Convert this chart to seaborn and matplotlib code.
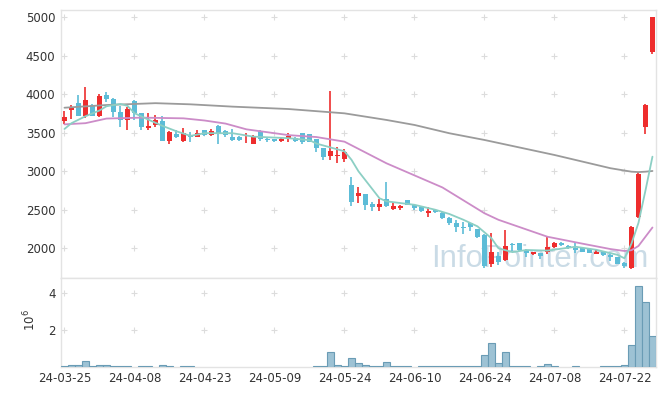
import numpy as np
import pandas as pd
import matplotlib
matplotlib.use('Agg')
import matplotlib.pyplot as plt
import seaborn as sns

# daily candles, 2024-03-25 .. 2024-07-26 (trading days)
opens = [3650, 3790, 3890, 3720, 3860, 3720, 3990, 3945, 3775, 3660,
         3915, 3755, 3560, 3595, 3655, 3400, 3490, 3400, 3470, 3450,
         3535, 3475, 3590, 3520, 3450, 3450, 3388, 3355, 3525, 3420,
         3420, 3390, 3418, 3437, 3495, 3480, 3415, 3300, 3200, 3198,
         3165, 2820, 2685, 2705, 2575, 2542, 2635, 2508, 2520, 2625,
         2560, 2530, 2455, 2497, 2462, 2390, 2325, 2275, 2325, 2245,
         2170, 1795, 1900, 1845, 2055, 2065, 1978, 1925, 1935, 1957,
         2022, 2065, 2030, 2000, 2000, 1988, 1926, 1955, 1912, 1885,
         1815, 1740, 2400, 3580, 4555]
highs = [3780, 3860, 3990, 4100, 3870, 4000, 4030, 3950, 3850, 3840,
         3920, 3760, 3760, 3730, 3715, 3525, 3535, 3560, 3510, 3540,
         3540, 3545, 3595, 3540, 3545, 3460, 3495, 3470, 3530, 3430,
         3425, 3430, 3495, 3445, 3500, 3490, 3420, 3305, 4040, 3320,
         3290, 2930, 2790, 2710, 2605, 2640, 2865, 2600, 2560, 2630,
         2570, 2540, 2530, 2505, 2470, 2400, 2365, 2335, 2330, 2255,
         2190, 2195, 1950, 2240, 2075, 2070, 1985, 1955, 1945, 2155,
         2085, 2080, 2040, 2085, 2005, 1995, 1995, 1960, 1925, 1890,
         1820, 2285, 2990, 3880, 5010]
lows = [3610, 3680, 3715, 3690, 3715, 3710, 3900, 3700, 3570, 3535,
        3660, 3530, 3540, 3580, 3390, 3350, 3430, 3385, 3385, 3440,
        3465, 3465, 3355, 3450, 3400, 3390, 3365, 3350, 3400, 3385,
        3385, 3380, 3385, 3385, 3360, 3380, 3255, 3145, 3145, 3105,
        3125, 2550, 2585, 2500, 2480, 2490, 2540, 2500, 2500, 2560,
        2500, 2470, 2405, 2460, 2385, 2300, 2210, 2185, 2230, 2140,
        1750, 1760, 1785, 1840, 1960, 1960, 1890, 1915, 1860, 1925,
        2010, 2030, 1995, 1935, 1950, 1940, 1920, 1900, 1830, 1795,
        1740, 1735, 2395, 3485, 4530]
closes = [3700, 3835, 3720, 3925, 3720, 3980, 3945, 3765, 3660, 3810,
          3755, 3570, 3590, 3660, 3400, 3505, 3440, 3500, 3450, 3495,
          3475, 3520, 3480, 3475, 3410, 3405, 3398, 3460, 3415, 3410,
          3390, 3420, 3458, 3400, 3385, 3385, 3300, 3185, 3268, 3205,
          3245, 2605, 2722, 2565, 2540, 2575, 2550, 2548, 2548, 2565,
          2520, 2478, 2490, 2465, 2392, 2325, 2270, 2265, 2275, 2150,
          1770, 1950, 1825, 2030, 2045, 1975, 1940, 1948, 1900, 2020,
          2070, 2040, 2000, 1980, 1958, 1945, 1955, 1910, 1892, 1798,
          1770, 2280, 2965, 3865, 5010]
# volume in millions of shares
volumes = [0.04, 0.08, 0.08, 0.30, 0.05, 0.09, 0.09, 0.04, 0.04, 0.04,
           0.00, 0.04, 0.04, 0.00, 0.10, 0.04, 0.00, 0.04, 0.04, 0.00,
           0.00, 0.00, 0.00, 0.00, 0.00, 0.00, 0.00, 0.00, 0.00, 0.00,
           0.00, 0.00, 0.00, 0.00, 0.00, 0.00, 0.04, 0.04, 0.82, 0.09,
           0.04, 0.45, 0.20, 0.09, 0.04, 0.04, 0.24, 0.04, 0.04, 0.04,
           0.00, 0.04, 0.04, 0.04, 0.04, 0.04, 0.04, 0.04, 0.04, 0.04,
           0.64, 1.27, 0.18, 0.78, 0.04, 0.04, 0.04, 0.00, 0.04, 0.14,
           0.04, 0.00, 0.00, 0.04, 0.00, 0.00, 0.00, 0.04, 0.04, 0.04,
           0.09, 1.18, 4.40, 3.51, 1.67]

# moving averages (day index, value)
ma5_days = [0, 1, 3, 5, 6, 8, 9, 10, 12, 14, 16, 18, 20, 24, 27, 32, 35, 36,
            40, 41, 42, 45, 46, 50, 53, 55, 57, 59, 61, 62, 64, 66, 69, 73,
            76, 79, 80, 81, 82, 83, 84]
ma5_vals = [3550, 3625, 3715, 3790, 3845, 3875, 3850, 3755, 3670, 3590, 3520,
            3460, 3495, 3495, 3450, 3430, 3405, 3360, 3260, 3150, 3000, 2650,
            2610, 2565, 2500, 2445, 2370, 2285, 2130, 2000, 1950, 1978, 1970,
            2020, 1980, 1915, 1870, 2060, 2330, 2750, 3190]
ma20_days = [0, 3, 6, 11, 17, 20, 23, 26, 32, 36, 40, 46, 54, 60, 62, 69, 74,
             78, 80, 81, 82, 84]
ma20_vals = [3610, 3625, 3685, 3697, 3688, 3660, 3620, 3545, 3470, 3445, 3385,
             3104, 2790, 2455, 2370, 2150, 2060, 1990, 1965, 1975, 2030, 2270]
ma60_days = [0, 6, 13, 18, 24, 32, 40, 46, 50, 55, 60, 70, 78, 80, 81, 82, 83, 84]
ma60_vals = [3826, 3861, 3885, 3870, 3840, 3809, 3753, 3667, 3602, 3494, 3407,
             3212, 3040, 3010, 2995, 2990, 2995, 3004]

tick_labels = ['24-03-25', '24-04-08', '24-04-23', '24-05-09', '24-05-24',
               '24-06-10', '24-06-24', '24-07-08', '24-07-22']

RED = '#ee2d2d'
BLUE = '#5cbcd7'
GRID = '#dcdcdc'
SPINE = '#e3e3e3'
TXT = '#333333'

sns.set_style('white')
plt.rcParams['font.family'] = ['DejaVu Sans']

df = pd.DataFrame({'open': opens, 'high': highs, 'low': lows,
                   'close': closes, 'volume': volumes})
df['day'] = np.arange(len(df))
n = len(df)

fig = plt.figure(figsize=(6.65, 3.96), dpi=100)
ax = fig.add_axes([0.0917, 0.2972, 0.8947, 0.6775])
ax2 = fig.add_axes([0.0917, 0.0740, 0.8947, 0.2232], sharex=ax)

# watermark
ax.text(0.987, 0.042, 'InfoPointer.com', transform=ax.transAxes,
        ha='right', va='baseline', fontsize=22.5, color='#b9d0de',
        alpha=0.75, family='Liberation Sans', zorder=1)

# grid crosses at tick intersections
xt = np.arange(0, n, 10)
for a, yt in ((ax, np.arange(2000, 5001, 500)), (ax2, [2, 4])):
    gx, gy = np.meshgrid(xt, yt)
    a.plot(gx.ravel(), gy.ravel(), ls='none', marker='+', ms=4.5,
           mew=0.8, color=GRID, zorder=0)

# candles
up = df['close'] >= df['open']
colors = np.where(up, RED, BLUE)
body_lo = np.minimum(df['open'], df['close'])
body_h = np.maximum((df['close'] - df['open']).abs(), 8)
ax.vlines(df['day'], df['low'], df['high'], colors=colors, lw=1.2, zorder=3)
ax.bar(df['day'], body_h, bottom=body_lo, width=0.72, color=colors,
       linewidth=0, zorder=3)

# moving averages
sns.lineplot(x=ma60_days, y=ma60_vals, ax=ax, color='#9b9b9b', lw=1.3, zorder=4)
sns.lineplot(x=ma20_days, y=ma20_vals, ax=ax, color='#cc8cc8', lw=1.3, zorder=4)
sns.lineplot(x=ma5_days, y=ma5_vals, ax=ax, color='#8ccfc4', lw=1.3, zorder=4)

# volume
edge = np.where(df['volume'] > 0, '#6a9cb5', 'none')
ax2.bar(df['day'], df['volume'], width=1.0, color='#9dc2d4',
        edgecolor=edge, linewidth=0.8, zorder=3)

ax.set_xlim(-0.5, n - 0.5)
ax.set_ylim(1610, 5095)
ax2.set_ylim(0, 4.82)

ax.set_yticks(np.arange(2000, 5001, 500))
ax2.set_yticks([2, 4])
ax2.set_xticks(xt)
ax2.set_xticklabels(tick_labels)
ax.tick_params(axis='x', labelbottom=False, length=0)
for a in (ax, ax2):
    a.tick_params(axis='both', length=0, labelsize=8.5, colors=TXT, pad=4)
    for s in a.spines.values():
        s.set_color(SPINE)
        s.set_linewidth(1.0)
    a.set_xlabel('')
    a.set_ylabel('')

ax2.set_ylabel('$10^6$', fontsize=8.5, color=TXT)
ax2.yaxis.set_label_coords(-0.038, 0.53)

fig.savefig('out.png', dpi=100)
